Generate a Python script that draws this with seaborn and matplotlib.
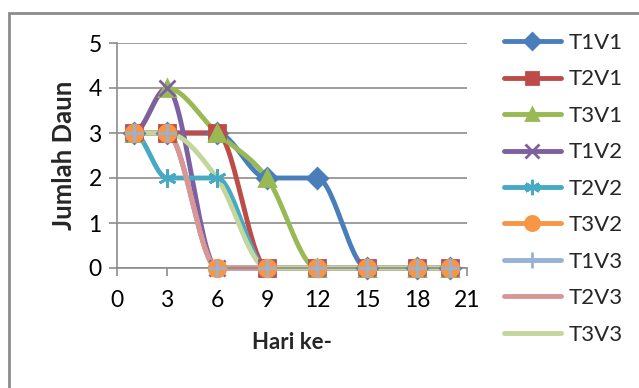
import numpy as np
import pandas as pd
import matplotlib
matplotlib.use("Agg")
import matplotlib.pyplot as plt
import seaborn as sns
from matplotlib.lines import Line2D
from matplotlib.patches import Rectangle

sns.set_style("white")
plt.rcParams['font.family'] = ['Lato', 'DejaVu Sans']

# data
hari = [1, 3, 6, 9, 12, 15, 18, 20]
T1V1 = [3, 3, 3, 2, 2, 0, 0, 0]
T2V1 = [3, 3, 3, 0, 0, 0, 0, 0]
T3V1 = [3, 4, 3, 2, 0, 0, 0, 0]
T1V2 = [3, 4, 0, 0, 0, 0, 0, 0]
T2V2 = [3, 2, 2, 0, 0, 0, 0, 0]
T3V2 = [3, 3, 0, 0, 0, 0, 0, 0]
T1V3 = [3, 3, 0, 0, 0, 0, 0, 0]
T2V3 = [3, 3, 0, 0, 0, 0, 0, 0]
T3V3 = [3, 3, 2, 0, 0, 0, 0, 0]
names = ['T1V1', 'T2V1', 'T3V1', 'T1V2', 'T2V2', 'T3V2', 'T1V3', 'T2V3', 'T3V3']
series = [T1V1, T2V1, T3V1, T1V2, T2V2, T3V2, T1V3, T2V3, T3V3]

warna = ['#4A7EBB', '#BE4B48', '#98B954', '#7D60A0', '#46AAC5', '#F79646',
         '#95B3D7', '#D99694', '#C3D69B']
marker = ['D', 's', '^', 'x', (6, 2, 0), 'o', '+', None, None]
msize = [10, 11, 11, 12, 13, 12, 13, 0, 0]


def halus(x, y, n=30):
    # garis halus (bezier), tangen nol di puncak supaya tidak melenceng
    x = np.asarray(x, float)
    y = np.asarray(y, float)
    d = np.diff(y) / np.diff(x)
    m = np.zeros(len(x))
    for i in range(1, len(x) - 1):
        if d[i - 1] * d[i] > 0:
            m[i] = (y[i + 1] - y[i - 1]) / (x[i + 1] - x[i - 1])
    xs, ys = [], []
    t = np.linspace(0, 1, n)
    for i in range(len(x) - 1):
        h = x[i + 1] - x[i]
        h00 = 2 * t ** 3 - 3 * t ** 2 + 1
        h10 = t ** 3 - 2 * t ** 2 + t
        h01 = -2 * t ** 3 + 3 * t ** 2
        h11 = t ** 3 - t ** 2
        xs.extend(x[i] + t * h)
        ys.extend(h00 * y[i] + h10 * h * m[i] + h01 * y[i + 1] + h11 * h * m[i + 1])
    return np.array(xs), np.array(ys)


fig = plt.figure(figsize=(6.39, 3.88), dpi=100)
ax = fig.add_axes([117 / 639, 1 - 268 / 388, 350 / 639, 225 / 388])

for i, (nama, ydata, c) in enumerate(zip(names, series, warna)):
    sx, sy = halus(hari, ydata)
    df = pd.DataFrame({'x': sx, 'y': sy})
    sns.lineplot(data=df, x='x', y='y', color=c, lw=3.5, sort=False,
                 estimator=None, ax=ax, clip_on=False)
    if marker[i] is not None:
        ax.plot(hari, ydata, ls='none', marker=marker[i], ms=msize[i], color=c,
                mec=c, mew=2, clip_on=False, zorder=3)

ax.set_xlim(0, 21)
ax.set_ylim(0, 5)
ax.set_xticks(range(0, 22, 3))
ax.set_yticks(range(0, 6))
ax.yaxis.grid(True, color='#8c8c8c', lw=1.2)
ax.tick_params(axis='both', labelsize=16.5, colors='#8c8c8c', labelcolor='black',
               direction='out', length=6, width=1.2, left=True, bottom=True)
ax.tick_params(axis='x', pad=10)
ax.tick_params(axis='y', pad=5)
for s in ['top', 'right']:
    ax.spines[s].set_visible(False)
for s in ['left', 'bottom']:
    ax.spines[s].set_color('#8c8c8c')
    ax.spines[s].set_linewidth(1.2)
ax.set_xlabel('Hari ke-', fontsize=16, fontweight='bold', labelpad=15)
ax.set_ylabel('Jumlah Daun', fontsize=18.5, fontweight='bold', labelpad=9)

handles = []
for i in range(len(names)):
    handles.append(Line2D([], [], color=warna[i], lw=3.5, marker=marker[i],
                          ms=msize[i] * 0.85, mew=2))
fig.legend(handles, names, loc='upper left', bbox_to_anchor=(504 / 639, 1 - 33 / 388),
           frameon=False, fontsize=16, labelspacing=0.74, handlelength=2.55,
           handletextpad=0.36, borderaxespad=0, borderpad=0)

fig.patches.append(Rectangle((9 / 639, -0.1), 1.2, 1 - 13 / 388 + 0.1,
                             transform=fig.transFigure, fill=False,
                             edgecolor='#8c8c8c', lw=2, clip_on=False))

fig.savefig('out.png', dpi=100)
